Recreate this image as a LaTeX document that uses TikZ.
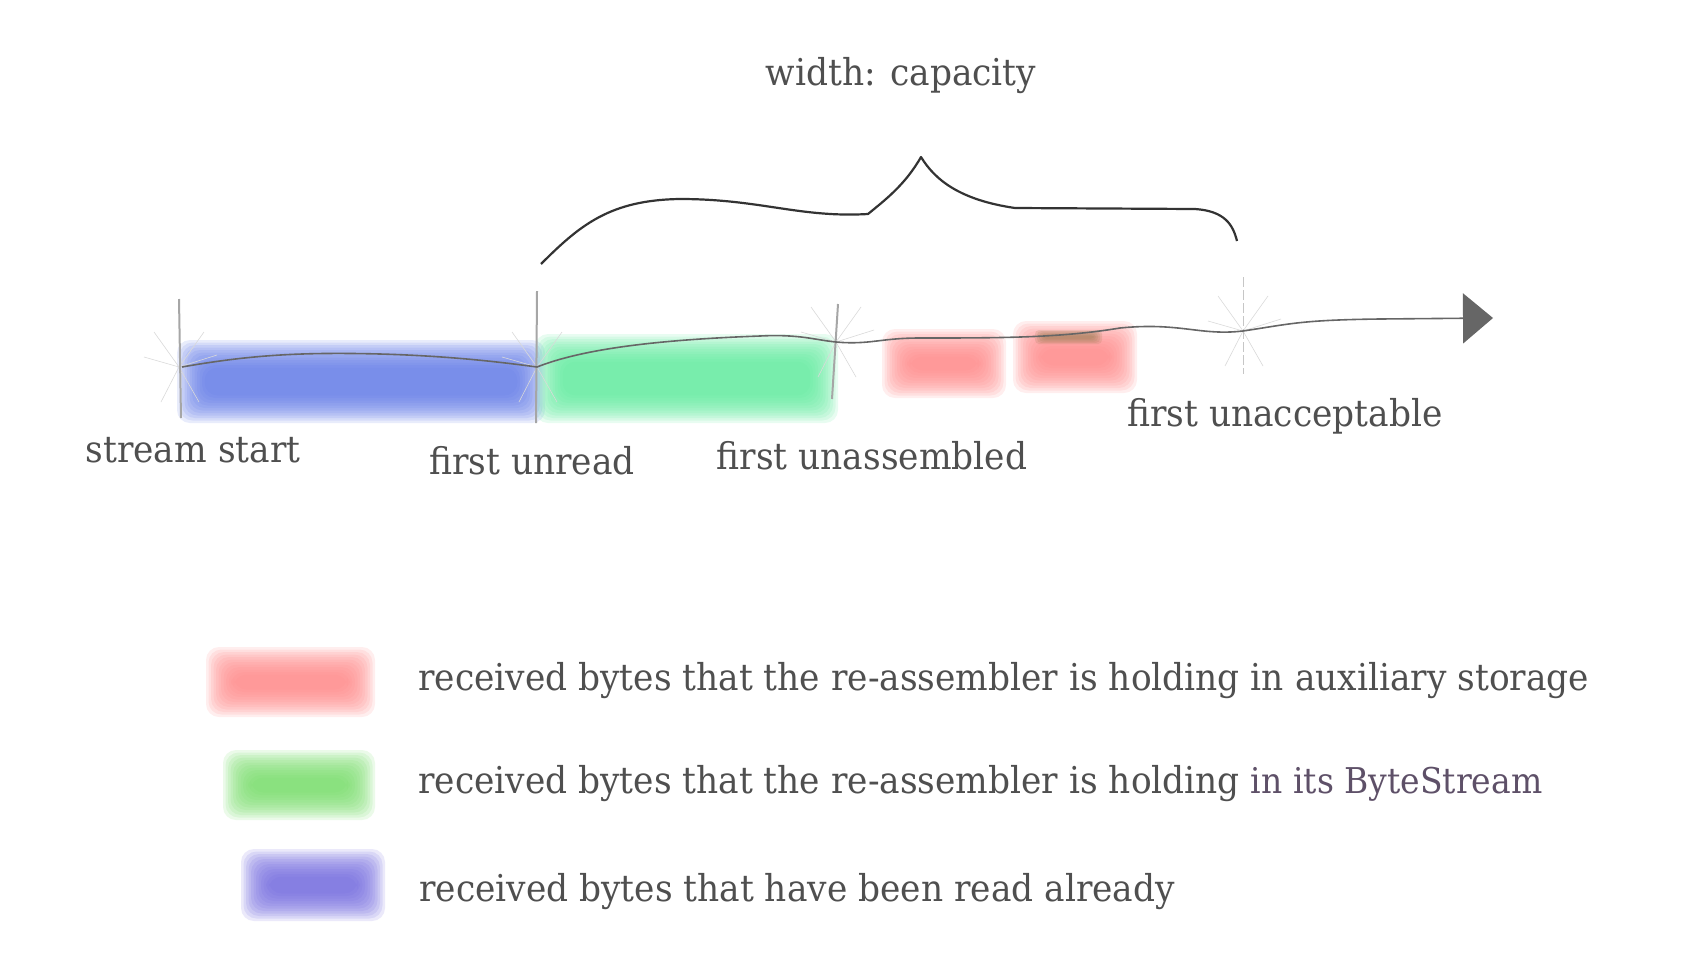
\documentclass[tikz,border=0pt]{standalone}
\usepackage{fontspec}
\setmainfont{DejaVu Serif}[FakeStretch=0.93]
\usetikzlibrary{arrows.meta}
\definecolor{txt}{HTML}{4F4F4F}
\definecolor{bsc}{HTML}{5E5068}
\definecolor{bluec}{HTML}{5F78E6}
\definecolor{greenc}{HTML}{5EEA9C}
\definecolor{redc}{HTML}{FF8585}
\definecolor{lgreen}{HTML}{74DB66}
\definecolor{lblue}{HTML}{6F66DD}
\definecolor{brownc}{HTML}{9A7A50}
\newcommand\blurrect[5]{%
  \foreach \k in {0,...,11}{%
    \fill[#1, opacity=0.14, rounded corners=13pt] ({#2-13+2.5*\k},{#3-13+2.5*\k}) rectangle ({#4+13-2.5*\k},{#5+13-2.5*\k});
  }%
}
\begin{document}
\begin{tikzpicture}[x=1pt,y=-1pt,
  lbl/.style={text=txt, font=\fontsize{37}{44}\selectfont, inner sep=0pt},
  axisline/.style={draw=gray!80!black, line width=1.6pt},
  tick/.style={draw=gray!70, line width=2pt},
  fan/.style={draw=gray!30, line width=0.6pt},
  brace/.style={draw=gray!40!black, line width=2.2pt, line join=round}]
\useasboundingbox (0,0) rectangle (1702,956);

% coloured bands
\blurrect{bluec}{190}{353}{532}{410}
\blurrect{greenc}{548}{347}{825}{410}
\blurrect{redc}{895}{342}{993}{385}
\blurrect{redc}{1026}{334}{1124}{380}
\foreach \k in {0,...,4}{
  \fill[brownc, opacity=0.18, rounded corners=4pt] ({1035+2*\k},{330+1.2*\k}) rectangle ({1102-2*\k},{344-1.2*\k});
}

% tick coordinates
\coordinate (t1a) at (179,299); \coordinate (t1b) at (181,418);
\coordinate (t2a) at (537,291); \coordinate (t2b) at (536,423);
\coordinate (t3a) at (838,304); \coordinate (t3b) at (832,399);
\coordinate (t4a) at (1243,277); \coordinate (t4b) at (1243,374);
\coordinate (aEnd) at (1493,318);

% sketchy fans
\foreach \x/\y in {179/367, 537/367, 836/342, 1243/331}{
  \draw[fan] (\x,\y) -- ++(-25,-35);
  \draw[fan] (\x,\y) -- ++(25,-35);
  \draw[fan] (\x,\y) -- ++(-18,35);
  \draw[fan] (\x,\y) -- ++(20,35);
  \draw[fan] (\x,\y) -- ++(-35,-10);
  \draw[fan] (\x,\y) -- ++(38,-12);
}

% ticks
\draw[tick] (t1a) -- (t1b);
\draw[tick] (t2a) -- (t2b);
\draw[tick] (t3a) -- (t3b);
\draw[draw=gray!45, line width=1pt, dash pattern=on 10pt off 3pt] (t4a) -- (t4b);

% axis
\draw[axisline, -{Triangle[length=30pt,width=50pt]}]
  (182,367) .. controls (250,355) and (300,352) .. (380,354)
  .. controls (450,356) and (500,362) .. (537,367)
  .. controls (580,350) and (650,340) .. (760,336)
  .. controls (800,334) and (815,340) .. (836,342)
  .. controls (870,345) and (880,338) .. (920,338)
  .. controls (1000,338) and (1060,338) .. (1120,328)
  .. controls (1180,322) and (1200,336) .. (1243,331)
  .. controls (1290,324) and (1300,320) .. (1380,319)
  -- (aEnd);

% brace
\draw[brace] (541,264) .. controls (580,225) and (610,200) .. (680,199)
  .. controls (760,199) and (800,218) .. (868,214)
  .. controls (885,200) and (905,185) .. (921,157)
  .. controls (935,180) and (960,200) .. (1015,208)
  -- (1195,209) .. controls (1225,211) and (1233,225) .. (1237,241);

% labels
\node[lbl] (cap) at (901,76) {width: capacity};
\node[lbl] (ss) at (193,450) {stream start};
\node[lbl] (fu) at (532,461) {first unread};
\node[lbl] (fa) at (872,456) {first unassembled};
\node[lbl] (fx) at (1285,416) {first unacceptable};

% legend
\blurrect{redc}{219}{660}{362}{704}
\blurrect{lgreen}{236}{763}{362}{807}
\blurrect{lblue}{254}{862}{372}{908}
\node[lbl, anchor=west] (l1) at (418,681) {received bytes that the re-assembler is holding in auxiliary storage};
\node[lbl, anchor=west] (l2) at (418,784) {received bytes that the re-assembler is holding\hspace{11pt}{\color{bsc}\fontsize{35.5}{42}\selectfont in its ByteStream}};
\node[lbl, anchor=west] (l3) at (419,892) {received bytes that have been read already};
\end{tikzpicture}
\end{document}
